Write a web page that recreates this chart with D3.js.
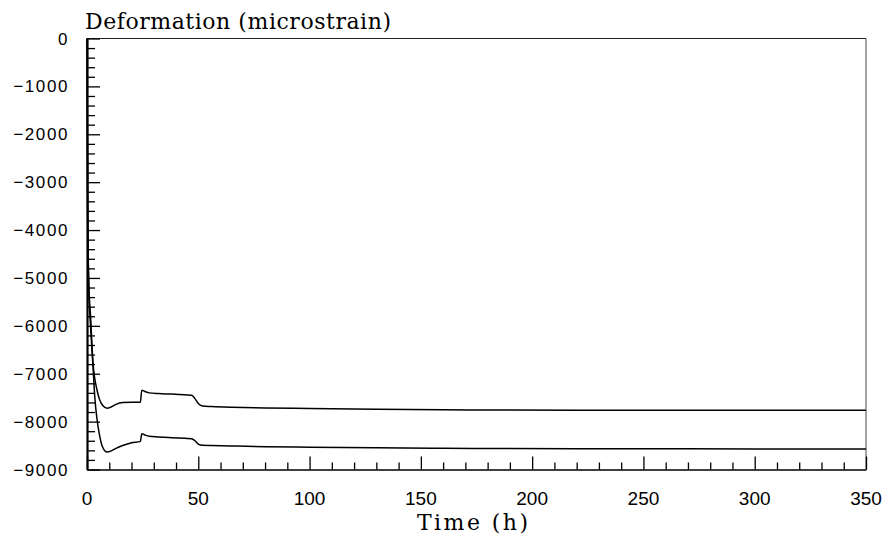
<!DOCTYPE html>
<html>
<head>
<meta charset="utf-8">
<script src="https://cdn.jsdelivr.net/npm/d3@7"></script>
<style>
  body { margin: 0; background: #fff; }
  svg { display: block; }
</style>
</head>
<body>
<div class="vis-chart"></div>
<script>
// time in hours
const time = [0, 0.3, 0.8, 1.6, 2.7, 3.5, 4.5, 5.5, 7, 9, 11, 13, 16, 20, 24, 24.6, 26, 28, 32, 38, 44, 47, 48.5, 50, 52, 56, 65, 80, 100, 130, 160, 190, 220, 260, 300, 350];
// deformation (microstrain), two specimens
const upper = [0, -3500, -5100, -5800, -6780, -7100, -7340, -7520, -7660, -7720, -7690, -7640, -7600, -7594, -7594, -7343, -7370, -7400, -7415, -7426, -7440, -7447, -7520, -7620, -7675, -7685, -7700, -7715, -7725, -7740, -7752, -7760, -7763, -7765, -7765, -7765];
const lower = [0, -3600, -5200, -6000, -6850, -7490, -7950, -8250, -8530, -8636, -8610, -8560, -8500, -8440, -8413, -8252, -8280, -8308, -8320, -8335, -8350, -8357, -8400, -8470, -8495, -8500, -8510, -8525, -8535, -8548, -8556, -8562, -8566, -8568, -8570, -8570];

const xTicks = [0, 50, 100, 150, 200, 250, 300, 350];
const yTicks = [0, -1000, -2000, -3000, -4000, -5000, -6000, -7000, -8000, -9000];

const width = 889, height = 537;
const margin = { top: 38.5, right: 23, bottom: 67.5, left: 87 };

const svg = d3.select('.vis-chart')
    .append('svg')
    .attr('width', width)
    .attr('height', height);

const x = d3.scaleLinear().domain([0, 350]).range([margin.left, width - margin.right]);
const y = d3.scaleLinear().domain([-9000, 0]).range([height - margin.bottom, margin.top]);

// frame: thin top/right, heavier left/bottom
svg.append('line')
    .attr('x1', x(0)).attr('x2', x(350)).attr('y1', y(0)).attr('y2', y(0))
    .attr('stroke', '#222').attr('stroke-width', 1.2);
svg.append('line')
    .attr('x1', x(350)).attr('x2', x(350)).attr('y1', y(0)).attr('y2', y(-9000))
    .attr('stroke', '#444').attr('stroke-width', 1);

// x axis, ticks pointing inward
const xAxis = d3.axisTop(x)
    .tickValues(d3.range(0, 351, 10))
    .tickSize(0)
    .tickFormat('');
const gx = svg.append('g')
    .attr('transform', 'translate(0,' + y(-9000) + ')')
    .call(xAxis);
gx.select('.domain').attr('stroke', '#000').attr('stroke-width', 1.6);
gx.selectAll('.tick line')
    .attr('y2', d => d % 50 === 0 ? -13 : -7)
    .attr('stroke', '#000')
    .attr('stroke-width', 1.3);

svg.selectAll('.xlab')
    .data(xTicks)
    .enter().append('text')
    .attr('class', 'xlab')
    .attr('x', d => x(d))
    .attr('y', 505)
    .attr('text-anchor', 'middle')
    .style('font-family', '"Liberation Sans", Arial, sans-serif')
    .style('font-size', '19px')
    .text(d => d);

// y axis, ticks pointing inward
const yAxis = d3.axisRight(y)
    .tickValues(d3.range(-9000, 1, 200))
    .tickSize(0)
    .tickFormat('');
const gy = svg.append('g')
    .attr('transform', 'translate(' + x(0) + ',0)')
    .call(yAxis);
gy.select('.domain').attr('stroke', '#000').attr('stroke-width', 2.2);
gy.selectAll('.tick line')
    .attr('x2', d => d % 1000 === 0 ? 13 : 8)
    .attr('stroke', '#000')
    .attr('stroke-width', 1.3);

svg.selectAll('.ylab')
    .data(yTicks)
    .enter().append('text')
    .attr('class', 'ylab')
    .attr('x', 69)
    .attr('y', d => y(d) + 6)
    .attr('text-anchor', 'end')
    .style('font-family', '"Liberation Sans", Arial, sans-serif')
    .style('font-size', '17px')
    .style('letter-spacing', '1.6px')
    .text(d => d === 0 ? '0' : '\u2212' + Math.abs(d));

// titles
svg.append('text')
    .attr('x', 85)
    .attr('y', 29)
    .attr('textLength', 306)
    .style('font-family', '"DejaVu Serif", "Liberation Serif", serif')
    .style('font-size', '22px')
    .text('Deformation (microstrain)');

svg.append('text')
    .attr('x', 417)
    .attr('y', 530)
    .attr('textLength', 111)
    .style('font-family', '"DejaVu Serif", "Liberation Serif", serif')
    .style('font-size', '22px')
    .text('Time (h)');

// curves
const line = d3.line()
    .x((d, i) => x(time[i]))
    .y(d => y(d))
    .curve(d3.curveMonotoneX);

[upper, lower].forEach(s => {
    svg.append('path')
        .datum(s)
        .attr('d', line)
        .attr('fill', 'none')
        .attr('stroke', '#000')
        .attr('stroke-width', 1.5);
});
</script>
</body>
</html>
